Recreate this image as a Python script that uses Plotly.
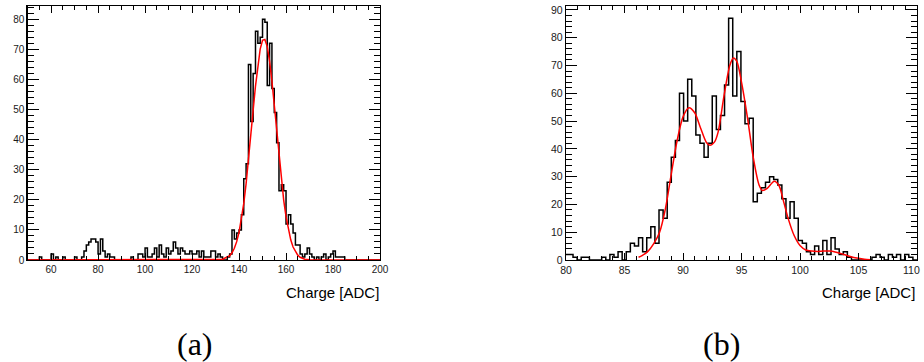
import plotly.graph_objects as go

# ---------------- Panel (a) data ----------------
a_bin_start = 50.0
a_bin_width = 1.0
a_counts = [
    0, 0, 0, 0, 0, 1, 0, 0, 0, 0,        # 50-59
    2, 0, 1, 0, 0, 1, 0, 0, 0, 0,        # 60-69
    1, 0, 0, 1, 3, 5, 6, 7, 7, 6,        # 70-79
    2, 7, 3, 1, 2, 1, 1, 0, 0, 0,        # 80-89
    0, 0, 0, 0, 1, 0, 0, 2, 2, 1,        # 90-99
    4, 1, 1, 2, 4, 1, 5, 2, 1, 4,        # 100-109
    2, 3, 6, 4, 2, 4, 3, 2, 2, 3,        # 110-119
    2, 2, 3, 1, 3, 1, 1, 1, 3, 3,        # 120-129
    1, 2, 1, 0, 0, 1, 2, 10, 7, 9,       # 130-139
    10, 15, 27, 32, 65, 46, 62, 76, 72, 74,  # 140-149
    80, 79, 58, 72, 57, 49, 39, 23, 25, 23,  # 150-159
    12, 15, 12, 9, 5, 5, 2, 1, 2, 4,     # 160-169
    2, 1, 0, 1, 0, 1, 2, 0, 1, 2,        # 170-179
    3, 1, 1, 1, 1, 0, 0, 0, 0, 0,        # 180-189
    0, 0, 0, 0, 0, 0, 0, 0, 0, 0,        # 190-199
]
a_fit_x = [50, 128, 130, 133, 136, 137, 138, 139, 140, 141, 142, 143, 144, 145, 146, 147,
           148, 149, 150, 151, 152, 153, 154, 155, 156, 157, 158, 159, 160, 161, 162, 163,
           164, 165, 166, 168, 170, 172, 174, 200]
a_fit_y = [0, 0, 0.03, 0.24, 1.4, 2.4, 3.9, 6.1, 9.2, 13.4, 18.7, 25.3, 32.8, 41.1, 49.7, 57.8,
           64.9, 70.1, 73.0, 73.3, 70.9, 66.1, 59.4, 51.4, 42.9, 34.5, 26.7, 19.9, 14.4, 9.9, 6.7, 4.3,
           2.7, 1.6, 0.9, 0.27, 0.07, 0.01, 0, 0]
a_xticks = [60, 80, 100, 120, 140, 160, 180, 200]
a_yticks = [0, 10, 20, 30, 40, 50, 60, 70, 80]

# ---------------- Panel (b) data ----------------
b_bin_start = 79.9
b_bin_width = 0.35
b_counts = [
    2, 2, 1, 0, 1, 1, 0, 0, 0, 1,
    0, 2, 1, 3, 0, 3, 6, 5, 8, 3,
    8, 12, 6, 18, 15, 28, 37, 43, 60, 50,
    65, 59, 45, 42, 37, 42, 59, 47, 52, 63,
    87, 59, 75, 57, 49, 51, 21, 24, 26, 28,
    30, 29, 27, 22, 15, 21, 15, 7, 6, 3,
    2, 5, 2, 7, 2, 8, 4, 2, 3, 1,
    0, 0, 0, 0, 0, 1, 2, 1, 0, 2,
    1, 2, 0, 2, 1, 0,
]
b_fit_x = [86.2, 86.5, 87.0, 87.5, 88.0, 88.5, 89.0, 89.5, 90.0, 90.5, 91.0, 91.5, 92.0, 92.3,
           92.7, 93.0, 93.5, 94.0, 94.3, 94.6, 95.0, 95.5, 96.0, 96.5, 96.8, 97.2, 97.8, 98.2,
           98.6, 99.0, 99.5, 100.0, 100.5, 101.0, 101.5, 102.0, 102.5, 103.0, 103.5, 104.0,
           104.5, 105.0, 105.5, 106.0]
b_fit_y = [1.0, 1.6, 3.1, 5.9, 10.0, 18.5, 31, 43, 51.5, 54.8, 53, 47.5, 42.3, 41.3,
           42.5, 46, 59, 70, 72.7, 71.5, 64, 51.5, 37, 27, 25, 25.8, 28.3, 26.8,
           21, 14.8, 8.8, 5.2, 3.6, 3.2, 3.1, 3.2, 3.2, 2.9, 2.3, 1.6,
           1.0, 0.6, 0.3, 0.1]
b_xticks = [80, 85, 90, 95, 100, 105, 110]
b_yticks = [0, 10, 20, 30, 40, 50, 60, 70, 80, 90]

x_title = "Charge [ADC]"
panel_labels = ["(a)", "(b)"]

W, H = 924, 362


def steps(start, width, counts):
    edges = [start + i * width for i in range(len(counts) + 1)]
    ys = list(counts) + [counts[-1]]
    return edges, ys


fig = go.Figure()
ax_x, ax_y = steps(a_bin_start, a_bin_width, a_counts)
fig.add_trace(go.Scatter(x=ax_x, y=ax_y, mode="lines", line=dict(color="black", width=1.5, shape="hv"),
                         xaxis="x", yaxis="y", showlegend=False, hoverinfo="skip"))
fig.add_trace(go.Scatter(x=a_fit_x, y=a_fit_y, mode="lines", line=dict(color="#ff0000", width=1.5),
                         xaxis="x", yaxis="y", showlegend=False, hoverinfo="skip"))
bx_x, bx_y = steps(b_bin_start, b_bin_width, b_counts)
fig.add_trace(go.Scatter(x=bx_x, y=bx_y, mode="lines", line=dict(color="black", width=1.5, shape="hv"),
                         xaxis="x2", yaxis="y2", showlegend=False, hoverinfo="skip"))
fig.add_trace(go.Scatter(x=b_fit_x, y=b_fit_y, mode="lines",
                         line=dict(color="#ff0000", width=1.5, shape="spline", smoothing=0.8),
                         xaxis="x2", yaxis="y2", showlegend=False, hoverinfo="skip"))

tickfont_a = dict(family="Liberation Sans, Arial, sans-serif", size=10, color="#1a1a1a")
tickfont_b = dict(family="Liberation Sans, Arial, sans-serif", size=10.5, color="#1a1a1a")


def xax(domain, rng, tickvals, minor_dtick, anchor, font, hide_last=False):
    text = [str(t) for t in tickvals]
    if hide_last:
        text[-1] = ""
    return dict(domain=domain, range=rng, tickvals=tickvals, ticktext=text,
                showline=True, linecolor="black", linewidth=1.3, mirror="ticks",
                ticks="inside", ticklen=7, tickwidth=1, tickcolor="black",
                minor=dict(ticks="inside", ticklen=4, tickwidth=1, tickcolor="black", dtick=minor_dtick, tick0=0),
                showgrid=False, zeroline=False, tickfont=font, anchor=anchor, fixedrange=True,
                automargin=False)


def yax(domain, rng, tickvals, minor_dtick, anchor, font):
    return dict(domain=domain, range=rng, tickvals=tickvals, ticktext=[str(t) for t in tickvals],
                showline=True, linecolor="black", linewidth=1.3, mirror="ticks",
                ticks="inside", ticklen=11, tickwidth=1, tickcolor="black",
                minor=dict(ticks="inside", ticklen=6, tickwidth=1, tickcolor="black", dtick=minor_dtick, tick0=0),
                showgrid=False, zeroline=False, tickfont=font, anchor=anchor, fixedrange=True,
                automargin=False)


ydom = [1 - 260 / H, 1 - 6 / H]
fig.update_layout(
    width=W, height=H, autosize=False,
    margin=dict(l=0, r=0, t=0, b=0),
    paper_bgcolor="white", plot_bgcolor="white",
    xaxis=xax([27.6 / W, 380 / W], [50, 200], a_xticks, 5, "y", tickfont_a),
    yaxis=yax(ydom, [0, 84.4], a_yticks, 2, "x", tickfont_a),
    xaxis2=xax([566 / W, 917 / W], [80, 110], b_xticks, 1, "y2", tickfont_b, hide_last=True),
    yaxis2=yax(ydom, [0, 91.4], b_yticks, 2, "x2", tickfont_b),
)

# last tick label of panel (b) sits just inside the page edge
fig.add_annotation(text=str(b_xticks[-1]), x=922 / W, y=1 - 270 / H, xref="paper", yref="paper",
                   xanchor="right", yanchor="middle", showarrow=False, font=tickfont_b)

title_font = dict(family="Liberation Sans, Arial, sans-serif", size=15, color="black")
for xr in (381, 917):
    fig.add_annotation(text=x_title, x=xr / W, y=1 - 292 / H, xref="paper", yref="paper",
                       xanchor="right", yanchor="middle", showarrow=False, font=title_font)
label_font = dict(family="Liberation Serif, Times New Roman, serif", size=32, color="black")
for lbl, xc in zip(panel_labels, (195, 721)):
    fig.add_annotation(text=lbl, x=xc / W, y=1 - 344 / H, xref="paper", yref="paper",
                       xanchor="center", yanchor="middle", showarrow=False, font=label_font)

fig.write_html("out.html",
               config={"displayModeBar": False, "staticPlot": True},
               post_script="document.body.style.margin='0';document.body.style.overflow='hidden';")
